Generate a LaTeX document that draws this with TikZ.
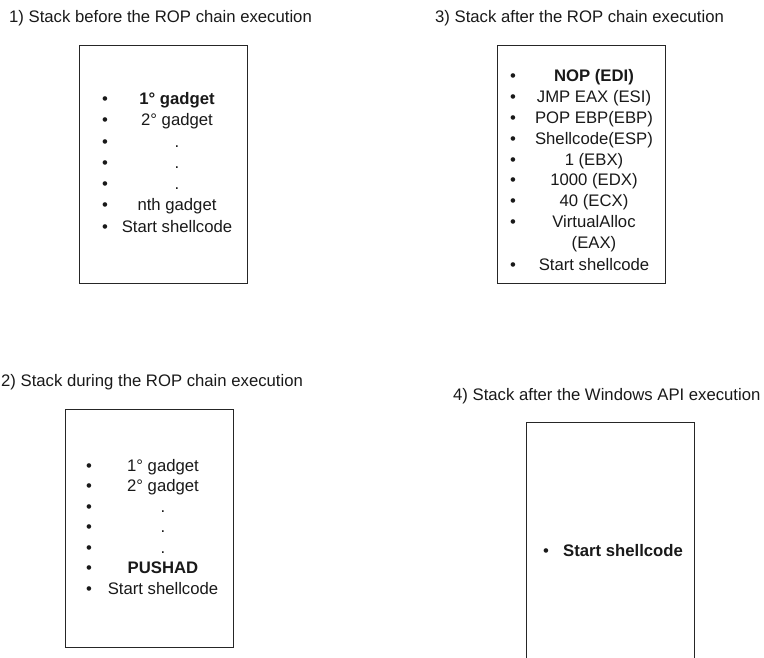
\documentclass[tikz,border=0pt]{standalone}
\usepackage{fontspec}
\setmainfont{Liberation Sans}
\usepackage{tikz}
\usetikzlibrary{positioning}
\tikzset{
    stackbox/.style={
        draw=black!85,
        line width=0.9pt,
        rectangle,
        anchor=north west,
        minimum width=168pt,
        minimum height=238pt,
        inner sep=0pt
    },
    caption/.style={anchor=base west, inner sep=0pt},
    entry/.style={anchor=base, inner sep=0pt},
    bullet/.style={anchor=base, inner sep=0pt}
}

\begin{document}
\begin{tikzpicture}[x=1pt, y=-1pt, font=\fontsize{16.7}{20}\selectfont, text=black!90]
    \useasboundingbox (0,0) rectangle (764,658);
    \clip (0,0) rectangle (764,658);

    % Titles
    \node[caption] (t1) at (9,23) {1) Stack before the ROP chain execution};
    \node[caption] (t2) at (1,386) {2) Stack during the ROP chain execution};
    \node[caption] (t3) at (435,23) {3) Stack after the ROP chain execution};
    \node[caption] (t4) at (453,400) {4) Stack after the Windows API execution};

    % Stacks
    \node[stackbox] (box1) at (79,45) {};
    \node[stackbox] (box2) at (65,409) {};
    \node[stackbox] (box3) at (497,45) {};
    \node[stackbox] (box4) at (526,422) {};

    % Bullets
    \foreach \i/\y in {1/105,2/126,3/148,4/169,5/190,6/211,7/233}
        \node[bullet] (b1-\i) at (105,\y) {•};
    \foreach \i/\y in {1/471,2/491,3/512,4/532,5/553,6/573,7/594}
        \node[bullet] (b2-\i) at (89,\y) {•};
    \foreach \i/\y in {1/82,2/103,3/124,4/145,5/166,6/186,7/207,8/228,9/270}
        \node[bullet] (b3-\i) at (513,\y) {•};
    \node[bullet] (b4-1) at (546,556) {•};

    % Stack 1
    \node[entry] (s1a) at (177,105) {\bfseries 1° gadget};
    \node[entry] (s1b) at (177,126) {2° gadget};
    \node[entry] (s1c) at (177,148) {.};
    \node[entry] (s1d) at (177,169) {.};
    \node[entry] (s1e) at (177,190) {.};
    \node[entry] (s1f) at (177,211) {nth gadget};
    \node[entry] (s1g) at (177,233) {Start shellcode};

    % Stack 2
    \node[entry] (s2a) at (163,471) {1° gadget};
    \node[entry] (s2b) at (163,491) {2° gadget};
    \node[entry] (s2c) at (163,512) {.};
    \node[entry] (s2d) at (163,532) {.};
    \node[entry] (s2e) at (163,553) {.};
    \node[entry] (s2f) at (163,573) {\bfseries PUSHAD};
    \node[entry] (s2g) at (163,594) {Start shellcode};

    % Stack 3
    \node[entry] (s3a) at (594,82) {\bfseries NOP (EDI)};
    \node[entry] (s3b) at (594,103) {JMP EAX (ESI)};
    \node[entry] (s3c) at (594,124) {POP EBP(EBP)};
    \node[entry] (s3d) at (594,145) {Shellcode(ESP)};
    \node[entry] (s3e) at (594,166) {1 (EBX)};
    \node[entry] (s3f) at (594,186) {1000 (EDX)};
    \node[entry] (s3g) at (594,207) {40 (ECX)};
    \node[entry] (s3h) at (594,228) {VirtualAlloc};
    \node[entry] (s3i) at (594,249) {(EAX)};
    \node[entry] (s3j) at (594,270) {Start shellcode};

    % Stack 4
    \node[caption] (s4a) at (563,556) {\bfseries Start shellcode};
\end{tikzpicture}
\end{document}
